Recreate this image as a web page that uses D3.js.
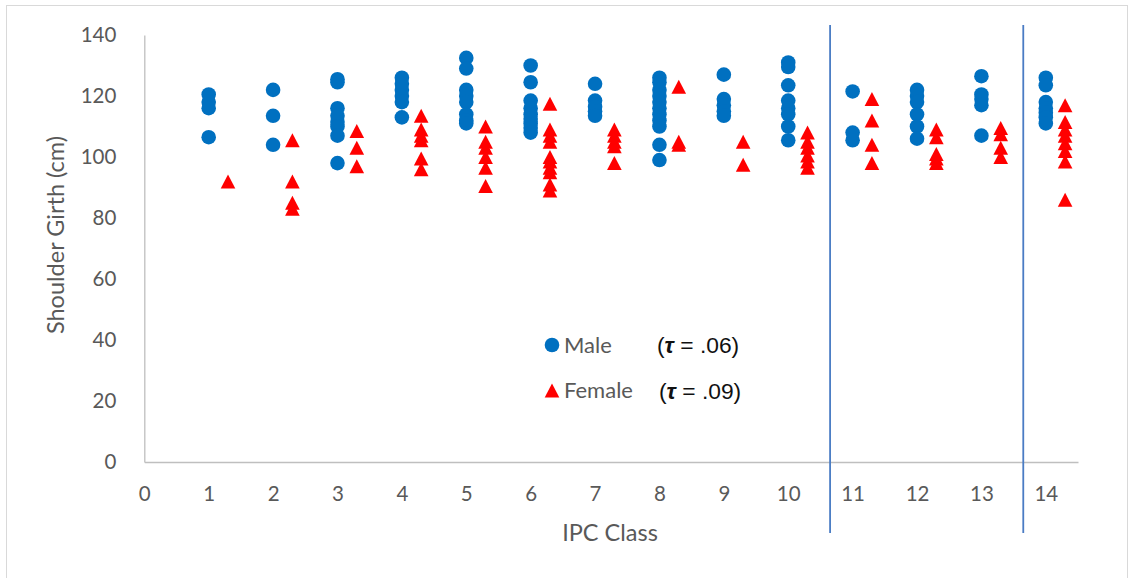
<!DOCTYPE html>
<html>
<head>
<meta charset="utf-8">
<script src="https://cdn.jsdelivr.net/npm/d3@7"></script>
<style>
  html, body { margin: 0; padding: 0; background: #fff; }
  svg { display: block; }
  text { font-family: Lato, "Open Sans", sans-serif; }
</style>
</head>
<body>
<svg id="chart" width="1130" height="578"></svg>
<script>
// IPC classes (x positions of male points; female points sit just to the right)
const ipcClasses = [1, 2, 3, 4, 5, 6, 7, 8, 9, 10, 11, 12, 13, 14];
const femaleOffset = 0.3;

// Shoulder girth (cm) per class, male athletes
const maleGirth = [
  [120.5, 118, 116, 106.5],
  [122, 113.5, 104],
  [125.5, 124.5, 116, 113.5, 111.5, 110, 107, 98],
  [126, 124, 122, 120, 118, 113],
  [132.5, 129, 122, 120, 118, 114, 112, 111],
  [130, 124.5, 118.5, 116, 114, 112.5, 111, 109.5, 108],
  [124, 118.5, 116.5, 115, 113.5],
  [126, 124.5, 122, 120, 118, 116, 114, 112, 110, 104, 99],
  [127, 119, 117, 115, 113.5],
  [131, 129.5, 123.5, 118.5, 116, 114, 110, 105.5],
  [121.5, 108, 105.5],
  [122, 120, 118, 114, 110, 106],
  [126.5, 120.5, 119, 117, 107],
  [126, 123.5, 118, 116, 114.5, 113, 111]
];

// Shoulder girth (cm) per class, female athletes
const femaleGirth = [
  [92],
  [105.5, 92, 85, 83],
  [108.5, 103, 97],
  [113.5, 109, 107, 105.5, 99.5, 96],
  [110, 105, 103, 100, 96.5, 90.5],
  [117.5, 109, 107, 105, 100, 98.5, 96.5, 95, 91, 89],
  [109, 107, 105, 103.5, 98],
  [123, 105, 104],
  [105, 97.5],
  [108, 105, 103, 100.5, 98.5, 96.5],
  [119, 112, 104, 98],
  [109, 106.5, 101, 99.5, 98],
  [109.5, 107.5, 103, 100],
  [117, 111.5, 109, 107, 104.5, 102, 98.5, 86]
];

// Axis ticks and group separators
const xTicks = d3.range(0, 15);
const yTicks = [0, 20, 40, 60, 80, 100, 120, 140];
const separators = [10.65, 13.65];

const legendItems = [
  { label: "Male", tau: ".06", shape: "circle" },
  { label: "Female", tau: ".09", shape: "triangle" }
];

const MALE = "#0070C0", FEMALE = "#FF0000", AXIS = "#BFBFBF", TEXT = "#595959";

const svg = d3.select("#chart");

// outer chart border
svg.append("rect")
  .attr("x", 6.5).attr("y", 5.5)
  .attr("width", 1121).attr("height", 590)
  .attr("fill", "none").attr("stroke", "#D9D9D9").attr("stroke-width", 1);

const x = d3.scaleLinear().domain([0, 14.5]).range([144.3, 1078]);
const y = d3.scaleLinear().domain([0, 140]).range([462, 35]);

// y axis
const yAxis = svg.append("g")
  .attr("transform", `translate(${x(0)},0)`)
  .call(d3.axisLeft(y).tickValues(yTicks).tickSize(0).tickPadding(28));
yAxis.select(".domain").attr("stroke", AXIS).attr("stroke-width", 1.3);
yAxis.selectAll("text").attr("font-size", 20.5).attr("fill", TEXT);

// x axis
const xAxis = svg.append("g")
  .attr("transform", `translate(0,${y(0)})`)
  .call(d3.axisBottom(x).tickValues(xTicks).tickFormat(d3.format("d")).tickSize(0).tickPadding(24));
xAxis.select(".domain").attr("stroke", AXIS).attr("stroke-width", 1.3);
xAxis.selectAll("text").attr("font-size", 20.5).attr("fill", TEXT);

// axis titles
svg.append("text")
  .attr("transform", `translate(64,${235}) rotate(-90)`)
  .attr("text-anchor", "middle")
  .attr("font-size", 23.5).attr("fill", TEXT)
  .text("Shoulder Girth (cm)");

svg.append("text")
  .attr("x", 610).attr("y", 541)
  .attr("text-anchor", "middle")
  .attr("font-size", 23.5).attr("fill", TEXT)
  .text("IPC Class");

// separators between class groups
svg.append("g").selectAll("line")
  .data(separators)
  .join("line")
  .attr("x1", d => x(d)).attr("x2", d => x(d))
  .attr("y1", 25).attr("y2", 533)
  .attr("stroke", "#4A7CC4").attr("stroke-width", 1.8);

// marker shapes
const circleR = 7.3;
const triPath = (cx, cy) => {
  const w = 14.6, h = 14;
  return `M${cx},${cy - h / 2}L${cx + w / 2},${cy + h / 2}L${cx - w / 2},${cy + h / 2}Z`;
};

const malePts = ipcClasses.flatMap((c, i) => maleGirth[i].map(v => ({ c, v })));
const femalePts = ipcClasses.flatMap((c, i) => femaleGirth[i].map(v => ({ c: c + femaleOffset, v })));

svg.append("g").selectAll("circle")
  .data(malePts)
  .join("circle")
  .attr("cx", d => x(d.c)).attr("cy", d => y(d.v))
  .attr("r", circleR).attr("fill", MALE);

svg.append("g").selectAll("path")
  .data(femalePts)
  .join("path")
  .attr("d", d => triPath(x(d.c), y(d.v)))
  .attr("fill", FEMALE);

// legend
const legend = svg.append("g");
legendItems.forEach((item, i) => {
  const cy = 345 + i * 45.5;
  if (item.shape === "circle") {
    legend.append("circle").attr("cx", 552).attr("cy", cy).attr("r", circleR).attr("fill", MALE);
  } else {
    legend.append("path").attr("d", triPath(552, cy)).attr("fill", FEMALE);
  }
  legend.append("text")
    .attr("x", 564).attr("y", cy + 7.5)
    .attr("font-size", 22).attr("fill", TEXT)
    .text(item.label);
  const t = legend.append("text")
    .attr("x", i === 0 ? 657 : 659).attr("y", cy + 8)
    .style("font-family", "'Liberation Sans', Arial, sans-serif")
    .attr("font-size", 22.8).attr("fill", "#111");
  t.append("tspan").text("(");
  t.append("tspan").style("font-style", "italic").style("font-weight", "bold").text("τ");
  t.append("tspan").text(` = ${item.tau})`);
});
</script>
</body>
</html>
